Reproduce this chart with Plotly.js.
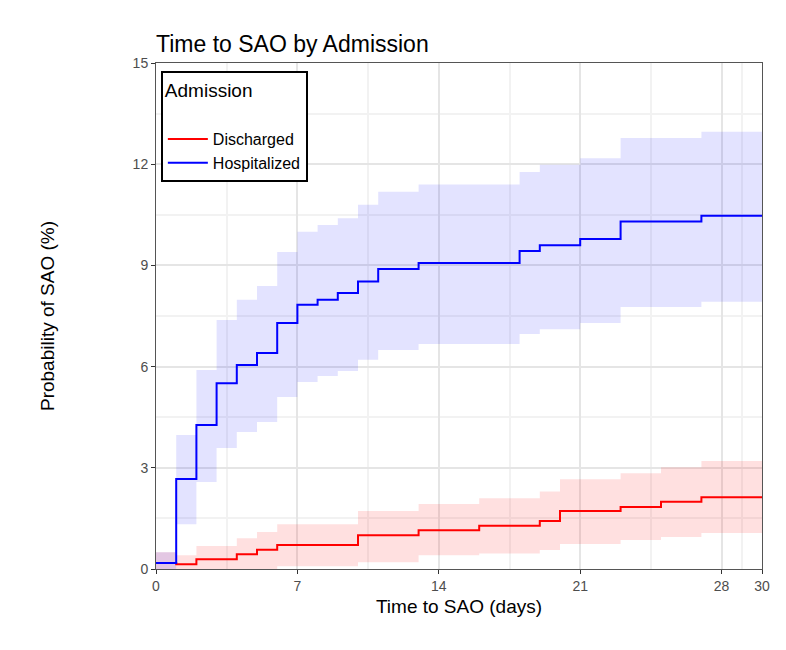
<!DOCTYPE html>
<html>
<head>
<meta charset="utf-8">
<script src="https://cdn.plot.ly/plotly-3.0.1.min.js"></script>
<style>body{margin:0;background:#fff}#chart{width:786px;height:650px}</style>
</head>
<body>
<div id="chart"></div>
<script>
// Step times (days) and cumulative incidence (%)
let hospTime  = [0, 1, 2, 3, 4, 5, 6, 7, 8, 9, 10, 11, 13, 18, 19, 21, 23, 27, 30];
let hospEst   = [0.18, 2.67, 4.27, 5.51, 6.05, 6.4, 7.29, 7.83, 7.98, 8.18, 8.52, 8.89, 9.07, 9.43, 9.6, 9.78, 10.3, 10.47, 10.47];
let hospLower = [0, 1.33, 2.58, 3.59, 4.06, 4.36, 5.1, 5.54, 5.72, 5.87, 6.2, 6.49, 6.67, 6.97, 7.11, 7.29, 7.77, 7.92, 7.92];
let hospUpper = [0.5, 3.97, 5.9, 7.38, 7.98, 8.39, 9.4, 10.0, 10.2, 10.4, 10.8, 11.18, 11.4, 11.77, 11.98, 12.18, 12.78, 12.96, 12.96];

let discTime  = [0, 1, 2, 4, 5, 6, 10, 13, 16, 19, 20, 23, 25, 27, 30];
let discEst   = [0.18, 0.14, 0.29, 0.44, 0.57, 0.71, 1.0, 1.15, 1.28, 1.42, 1.72, 1.84, 1.99, 2.13, 2.13];
let discLower = [0, 0, 0, 0, 0, 0.08, 0.2, 0.41, 0.46, 0.56, 0.74, 0.86, 0.95, 1.07, 1.07];
let discUpper = [0.5, 0.41, 0.68, 0.91, 1.1, 1.33, 1.72, 1.93, 2.1, 2.3, 2.66, 2.84, 3.02, 3.2, 3.2];

function band(t, lo, hi, fill) {
    return [
        { x: t, y: lo, mode: 'lines', line: { width: 0, shape: 'hv' }, showlegend: false, hoverinfo: 'skip' },
        { x: t, y: hi, mode: 'lines', line: { width: 0, shape: 'hv' }, fill: 'tonexty', fillcolor: fill, showlegend: false, hoverinfo: 'skip' }
    ];
}

let traces = []
    .concat(band(discTime, discLower, discUpper, 'rgba(255,0,0,0.12)'))
    .concat(band(hospTime, hospLower, hospUpper, 'rgba(0,0,255,0.11)'))
    .concat([
        { x: discTime, y: discEst, name: 'Discharged', mode: 'lines', line: { color: '#ff0000', width: 2, shape: 'hv' } },
        { x: hospTime, y: hospEst, name: 'Hospitalized', mode: 'lines', line: { color: '#0000ff', width: 2, shape: 'hv' } }
    ]);

let layout = {
    width: 786, height: 650,
    margin: { l: 156, r: 24, t: 63, b: 81 },
    font: { family: 'Liberation Sans, Arial, sans-serif', color: '#000' },
    paper_bgcolor: 'white', plot_bgcolor: 'white',
    title: { text: 'Time to SAO by Admission', x: 156 / 786, xanchor: 'left', y: 0.945, font: { size: 23 } },
    xaxis: {
        range: [0, 30], tickvals: [0, 7, 14, 21, 28, 30], ticks: 'outside', ticklen: 4, tickcolor: '#333',
        tickfont: { size: 14, color: '#4d4d4d' }, showline: true, linecolor: '#555', mirror: true, zeroline: false,
        gridcolor: '#e5e5e5', gridwidth: 1.5,
        minor: { tickvals: [3.5, 10.5, 17.5, 24.5, 29], showgrid: true, gridcolor: '#f2f2f2', ticks: '' },
        title: { text: 'Time to SAO (days)', font: { size: 19 }, standoff: 6 }
    },
    yaxis: {
        range: [0, 15], dtick: 3, ticks: 'outside', ticklen: 4, tickcolor: '#333',
        tickfont: { size: 14, color: '#4d4d4d' }, showline: true, linecolor: '#555', mirror: true, zeroline: false,
        gridcolor: '#e5e5e5', gridwidth: 1.5,
        minor: { dtick: 1.5, showgrid: true, gridcolor: '#f2f2f2', ticks: '' },
        title: { text: 'Probability of SAO (%)', font: { size: 19 }, standoff: 72 }
    },
    legend: {
        x: 0.008, y: 0.985, xanchor: 'left', yanchor: 'top', traceorder: 'normal',
        bordercolor: '#000', borderwidth: 2, bgcolor: 'white',
        title: { text: 'Admission<br> ', font: { size: 19 } },
        font: { size: 16 }, tracegroupgap: 10, itemwidth: 40
    },
    showlegend: true
};

Plotly.newPlot('chart', traces, layout, { displayModeBar: false });
</script>
</body>
</html>
